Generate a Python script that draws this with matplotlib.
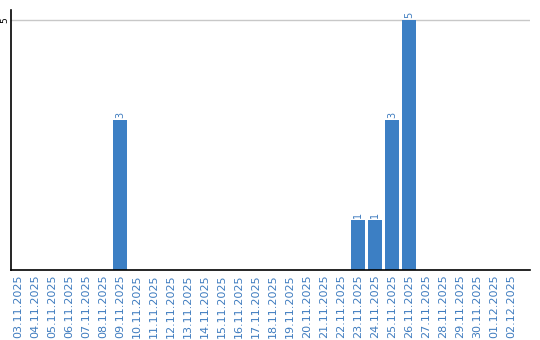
import matplotlib
matplotlib.use('Agg')
import matplotlib.pyplot as plt

# Days shown on the x axis
dates = ['03.11.2025', '04.11.2025', '05.11.2025', '06.11.2025', '07.11.2025',
         '08.11.2025', '09.11.2025', '10.11.2025', '11.11.2025', '12.11.2025',
         '13.11.2025', '14.11.2025', '15.11.2025', '16.11.2025', '17.11.2025',
         '18.11.2025', '19.11.2025', '20.11.2025', '21.11.2025', '22.11.2025',
         '23.11.2025', '24.11.2025', '25.11.2025', '26.11.2025', '27.11.2025',
         '28.11.2025', '29.11.2025', '30.11.2025', '01.12.2025', '02.12.2025']
counts = [0, 0, 0, 0, 0, 0, 3, 0, 0, 0,
          0, 0, 0, 0, 0, 0, 0, 0, 0, 0,
          1, 1, 3, 5, 0, 0, 0, 0, 0, 0]

bar_color = '#3c7fc4'
label_color = '#3f7cbf'

fig = plt.figure(figsize=(5.4, 3.4), dpi=100)
ax = fig.add_axes([11 / 540, 1 - 270 / 340, 519 / 540, 260 / 340])

x = list(range(len(dates)))
ax.bar(x, counts, width=0.82, color=bar_color, zorder=2)

# value labels on top of the non-empty bars
for xi, c in zip(x, counts):
    if c > 0:
        ax.text(xi, c + 0.03, str(c), rotation=90, ha='center', va='bottom',
                fontsize=7, color=label_color)

ax.set_xlim(-0.41, 30.12)
ax.set_ylim(0, 5.2)
ax.set_xticks(x)
ax.set_xticklabels(dates, rotation=90, fontsize=8, color=label_color)
ax.set_yticks([5])
ax.set_yticklabels(['5'], rotation=90, fontsize=6.5, va='center')
ax.tick_params(axis='x', length=0, pad=3)
ax.tick_params(axis='y', length=0, pad=1)
ax.yaxis.grid(True, color='#c8c8c8', linewidth=1, zorder=0)

for side in ['top', 'right']:
    ax.spines[side].set_visible(False)
ax.spines['left'].set_linewidth(1.2)
ax.spines['bottom'].set_linewidth(1.2)

fig.savefig('out.png', dpi=100)
